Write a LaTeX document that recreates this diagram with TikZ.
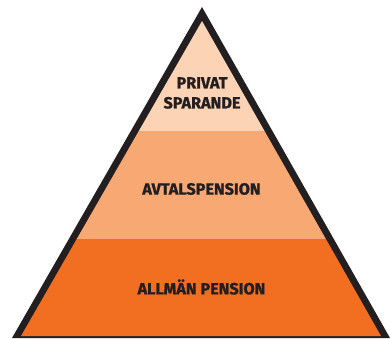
\documentclass[tikz,border=0pt]{standalone}
\usepackage{fontspec}
\setmainfont{Fira Sans}[BoldFeatures={FakeBold=1.2}]
\definecolor{pyrblack}{HTML}{231F20}
\definecolor{bandtop}{HTML}{FCD4B5}
\definecolor{bandmid}{HTML}{F8A873}
\definecolor{bandlow}{HTML}{F26F21}
\begin{document}
\begin{tikzpicture}[x=1pt,y=-1pt,
  lbl/.style={font=\bfseries\fontsize{16.2}{20}\selectfont, text=pyrblack, align=center, inner sep=0pt}]
\useasboundingbox (0,0) rectangle (390,338);
\fill[white] (0,0) rectangle (390,338);
\fill[pyrblack] (202,7) -- (12,338) -- (390,338) -- cycle;
\begin{scope}
  \clip (202,21) -- (21,336) -- (381,336) -- cycle;
  \fill[bandtop] (0,0) rectangle (390,131);
  \fill[bandmid] (0,131) rectangle (390,239);
  \fill[bandlow] (0,239) rectangle (390,338);
\end{scope}
\node[lbl] (privat) at (202,93) {PRIVAT\\SPARANDE};
\node[lbl] (avtal) at (201.5,189) {AVTALSPENSION};
\node[lbl] (allman) at (201.5,287) {ALLMÄN PENSION};
\end{tikzpicture}
\end{document}
